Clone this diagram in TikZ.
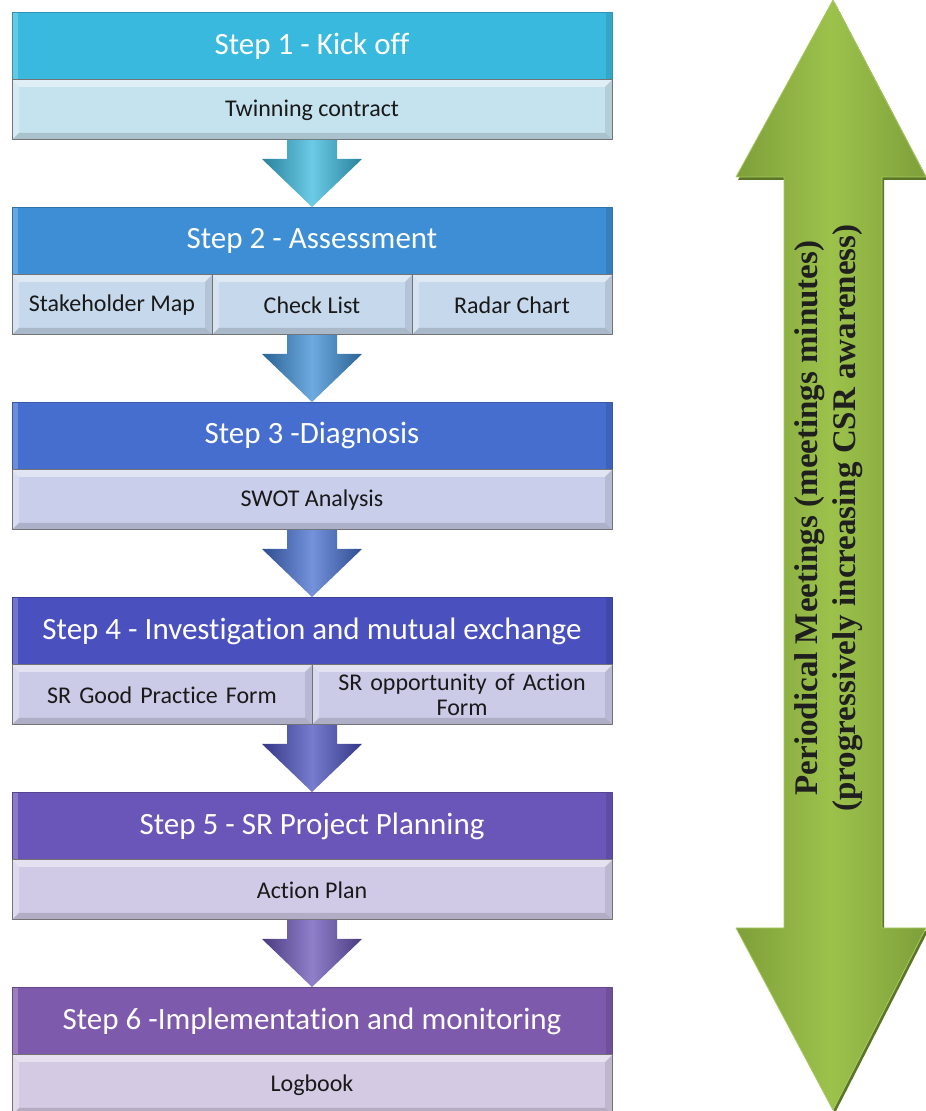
\documentclass[tikz,border=0pt]{standalone}
\usepackage{fontspec}
\setmainfont{Carlito}[Ligatures=NoCommon]
\newfontfamily\meetfont{Liberation Serif}
\usetikzlibrary{positioning,calc}
\definecolor{hdA}{HTML}{3AB9DE}
\definecolor{hdB}{HTML}{3D8ED5}
\definecolor{hdC}{HTML}{456ECF}
\definecolor{hdD}{HTML}{4A50BE}
\definecolor{hdE}{HTML}{6A55B8}
\definecolor{hdF}{HTML}{7E5AAC}
\definecolor{sbA}{HTML}{C5E3EE}
\definecolor{sbB}{HTML}{C6D8EC}
\definecolor{sbC}{HTML}{C9CEEA}
\definecolor{sbD}{HTML}{CBCBE8}
\definecolor{sbE}{HTML}{D0CAE6}
\definecolor{sbF}{HTML}{D4CAE3}
\definecolor{grA}{HTML}{7E9F3A}
\definecolor{grB}{HTML}{9DC24B}
\definecolor{grL}{HTML}{A6CA5E}
\definecolor{grS}{HTML}{5B7628}
\tikzset{
  every picture/.style={line join=round, line cap=round},
  head/.style={fill=#1, draw=#1!80!black, line width=.6pt, outer sep=0pt,
    minimum width=600pt, minimum height=68pt, inner sep=0pt, text=white,
    font=\fontsize{31}{36}\selectfont,
    path picture={
      \fill[white,opacity=.22] (path picture bounding box.south west) rectangle ([xshift=6pt]path picture bounding box.north west);
      \fill[black,opacity=.10] ([xshift=-6pt]path picture bounding box.south east) rectangle (path picture bounding box.north east);
    }},
  sub/.style={fill=#1, draw=black!55, line width=1pt, outer sep=0pt,
    minimum width=600pt, minimum height=60pt, inner sep=2pt, text=black!90,
    font=\fontsize{24}{25}\selectfont, align=center,
    path picture={
      \fill[white,opacity=.45] (path picture bounding box.north west) -- (path picture bounding box.north east)
        -- ([shift={(-7pt,-7pt)}]path picture bounding box.north east) -- ([shift={(7pt,-7pt)}]path picture bounding box.north west) -- cycle;
      \fill[white,opacity=.30] (path picture bounding box.north west) -- ([shift={(7pt,-7pt)}]path picture bounding box.north west)
        -- ([shift={(7pt,7pt)}]path picture bounding box.south west) -- (path picture bounding box.south west) -- cycle;
      \fill[black,opacity=.14] (path picture bounding box.south west) -- (path picture bounding box.south east)
        -- ([shift={(-7pt,7pt)}]path picture bounding box.south east) -- ([shift={(7pt,7pt)}]path picture bounding box.south west) -- cycle;
      \fill[black,opacity=.09] (path picture bounding box.south east) -- (path picture bounding box.north east)
        -- ([shift={(-7pt,-7pt)}]path picture bounding box.north east) -- ([shift={(-7pt,7pt)}]path picture bounding box.south east) -- cycle;
    }},
}
% down arrow between two steps
\newcommand\stepdown[3]{%
  \shade[left color=#3!70!black, right color=#3!70!black, middle color=#3!75!white]
    ($(#1)+(-25pt,0)$) -- ($(#1)+(25pt,0)$) -- ($(#1)+(25pt,-19pt)$) -- ($(#1)+(50pt,-19pt)$)
    -- (#2) -- ($(#1)+(-50pt,-19pt)$) -- ($(#1)+(-25pt,-19pt)$) -- cycle;}
\begin{document}
\begin{tikzpicture}[x=1pt,y=1pt]
\useasboundingbox (0,0) rectangle (926,1111);
% steps
\node[head=hdA] (h1) at (312,1065) {Step 1 - Kick off};
\node[sub=sbA, below=0pt of h1] (t1) {Twinning contract};
\node[head=hdB, below=67pt of t1] (h2) {Step 2 - Assessment};
\node[sub=sbB, minimum width=200pt, below=0pt of h2] (c2b) {Check List};
\node[sub=sbB, minimum width=200pt, left=0pt of c2b] (c2a) {Stakeholder Map};
\node[sub=sbB, minimum width=200pt, right=0pt of c2b] (c2c) {Radar Chart};
\node[head=hdC, below=67pt of c2b] (h3) {Step 3 -Diagnosis};
\node[sub=sbC, below=0pt of h3] (t3) {SWOT Analysis};
\node[head=hdD, below=67pt of t3] (h4) {Step 4 - Investigation and mutual exchange};
\node[sub=sbD, minimum width=300pt, text width=285pt, below right=0pt of h4.south west] (s4a) {SR Good Practice Form};
\node[sub=sbD, minimum width=300pt, text width=285pt, right=0pt of s4a] (s4b) {SR opportunity of Action\\Form};
\node[head=hdE, below=67pt of s4a.south east] (h5) {Step 5 - SR Project Planning};
\node[sub=sbE, below=0pt of h5] (t5) {Action Plan};
\node[head=hdF, below=67pt of t5] (h6) {Step 6 -Implementation and monitoring};
\node[sub=sbF, below=0pt of h6] (t6) {Logbook};
% arrows
\stepdown{t1.south}{h2.north}{hdA}
\stepdown{c2b.south}{h3.north}{hdB}
\stepdown{t3.south}{h4.north}{hdC}
\stepdown{s4a.south east}{h5.north}{hdD}
\stepdown{t5.south}{h6.north}{hdE}
% periodical meetings
\path[preaction={fill=grS, transform canvas={shift={(2pt,-3pt)}}},
  left color=grA, right color=grA, middle color=grB, draw=grL, line width=.8pt]
  (833,1111) -- (926,934) -- (882,934) -- (882,183) -- (926,183) -- (833,1)
  -- (736,183) -- (784,183) -- (784,934) -- (736,934) -- cycle;
\node[rotate=90, align=center, text=black!88,
  font=\meetfont\bfseries\fontsize{33}{38}\selectfont] (meet) at (829,593)
  {Periodical Meetings (meetings minutes)\\(progressively increasing CSR awareness)};
\end{tikzpicture}
\end{document}
